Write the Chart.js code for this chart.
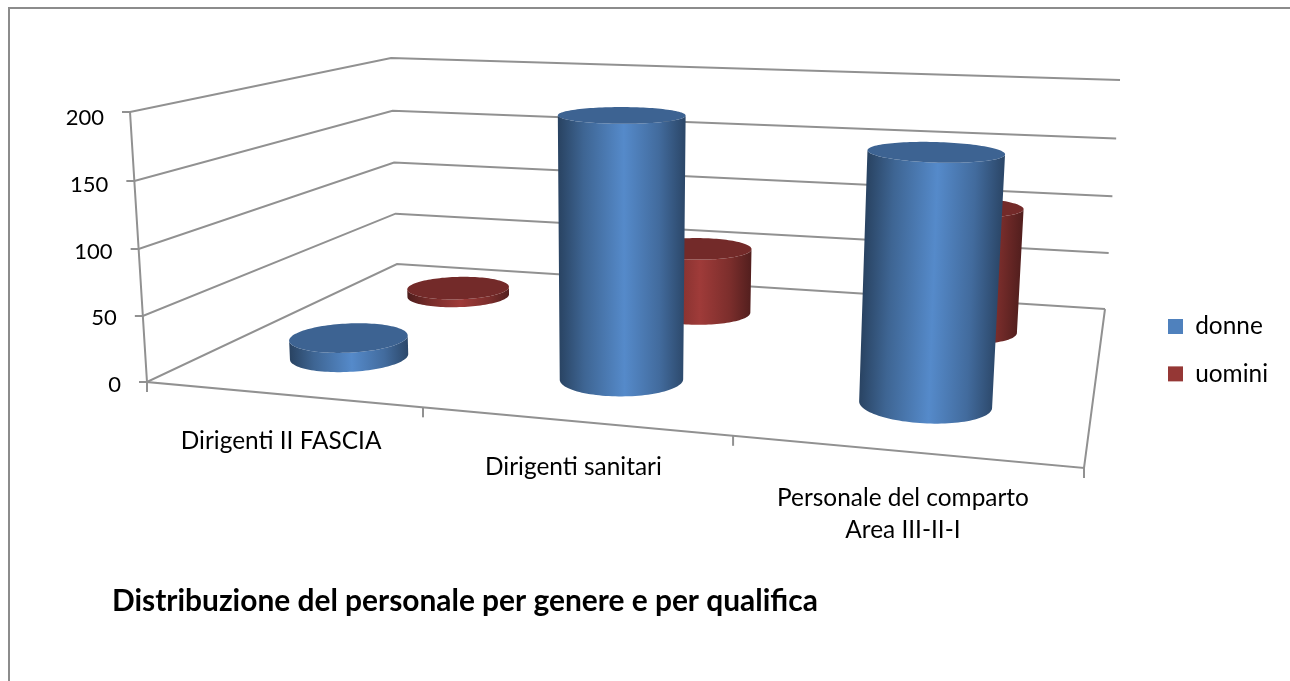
<!DOCTYPE html>
<html lang="it">
<head>
  <meta charset="UTF-8" />
  <title>Distribuzione del personale</title>
  <script src="https://cdn.jsdelivr.net/npm/chart.js"></script>
  <style>
    html, body { margin: 0; padding: 0; background: #fff; overflow: hidden; }
    #frame {
      position: absolute; left: 8px; top: 7px; right: 0; bottom: 0;
      border-left: 2px solid #8c8c8c;
      border-top: 2px solid #8c8c8c;
    }
    canvas { position: absolute; left: 0; top: 0; }
  </style>
</head>
<body>
  <div id="frame"></div>
  <canvas id="chart" width="1290" height="681"></canvas>

  <script>
    const categories = ['Dirigenti II FASCIA', 'Dirigenti sanitari', ['Personale del comparto', 'Area III-II-I']];
    const donne = [15, 198, 182];
    const uomini = [7, 56, 104];
    const titleText = 'Distribuzione del personale per genere e per qualifica';

    const FONT = 'Lato, Carlito, sans-serif';
    const TICK_SIZE = 22;
    const LABEL_SIZE = 24.4;
    const LINE = '#919191';

    // corners of the 3d box on screen: front left, front right, back right, back left
    const floorQuad = [[147, 382], [1084, 468], [1105, 309], [397, 264]];
    const topQuad = [[130, 112], [1104, 160], [1120, 80], [390, 58]];
    // uprights all run towards this point far below the picture
    const VANISH = [614, 7802];
    const DEPTH_RADIUS = 0.105;

    function homography(q) {
      const [[x0, y0], [x1, y1], [x2, y2], [x3, y3]] = q;
      const dx1 = x1 - x2, dx2 = x3 - x2, dx3 = x0 - x1 + x2 - x3;
      const dy1 = y1 - y2, dy2 = y3 - y2, dy3 = y0 - y1 + y2 - y3;
      const den = dx1 * dy2 - dx2 * dy1;
      const g = (dx3 * dy2 - dx2 * dy3) / den;
      const h = (dx1 * dy3 - dx3 * dy1) / den;
      const a = x1 - x0 + g * x1, b = x3 - x0 + h * x3;
      const d = y1 - y0 + g * y1, e = y3 - y0 + h * y3;
      return (u, t) => {
        const w = g * u + h * t + 1;
        return [(a * u + b * t + x0) / w, (d * u + e * t + y0) / w];
      };
    }
    const onFloor = homography(floorQuad);
    const onTop = homography(topQuad);

    // u across the categories, t into the depth, v up the value axis (all 0..1)
    function project(u, t, v) {
      const a = onFloor(u, t), b = onTop(u, t);
      const k = v * 0.97 / ((1 - v) + v * 0.97);
      const py = a[1] + (b[1] - a[1]) * k;
      const px = a[0] + (a[0] - VANISH[0]) * (a[1] - py) / (VANISH[1] - a[1]);
      return [px, py];
    }

    function polyline(ctx, pts) {
      ctx.beginPath();
      pts.forEach((p, i) => i ? ctx.lineTo(p[0], p[1]) : ctx.moveTo(p[0], p[1]));
      ctx.stroke();
    }

    function shade(hex, f) {
      const n = parseInt(hex.slice(1), 16);
      const c = [n >> 16, (n >> 8) & 255, n & 255].map(x => Math.min(255, Math.round(x * f)));
      return `rgb(${c[0]},${c[1]},${c[2]})`;
    }

    const bodyStops = [[0, 0.52], [0.2, 0.78], [0.52, 1.07], [0.8, 0.83], [1, 0.56]];

    function drawCylinder(ctx, u, t, ru, v, color) {
      const N = 120;
      const circle = h => Array.from({ length: N }, (_, i) => {
        const a = i / N * Math.PI * 2;
        return project(u + ru * Math.cos(a), t - DEPTH_RADIUS * Math.sin(a), h);
      });
      const low = circle(0), high = circle(v);
      const xs = low.map((p, i) => p[0] + high[i][0]);
      const left = xs.indexOf(Math.min(...xs)), right = xs.indexOf(Math.max(...xs));
      const mid = i => [(low[i][0] + high[i][0]) / 2, (low[i][1] + high[i][1]) / 2];

      // sin > 0 is the side towards the viewer, from the right edge round to the left edge
      const grad = ctx.createLinearGradient(...mid(left), ...mid(right));
      bodyStops.forEach(([s, f]) => grad.addColorStop(s, shade(color, f)));
      const front = [];
      for (let i = right; i !== left; i = (i + 1) % N) front.push(i);
      front.push(left);
      ctx.fillStyle = grad;
      ctx.beginPath();
      front.forEach((i, n) => n ? ctx.lineTo(...low[i]) : ctx.moveTo(...low[i]));
      front.slice().reverse().forEach(i => ctx.lineTo(...high[i]));
      ctx.closePath();
      ctx.fill();

      ctx.fillStyle = shade(color, 0.77);
      ctx.beginPath();
      high.forEach((p, i) => i ? ctx.lineTo(...p) : ctx.moveTo(...p));
      ctx.closePath();
      ctx.fill();
    }

    const box3d = {
      id: 'box3d',
      afterLayout(chart) {
        chart.titleBlock.left = 112;
      },
      beforeDatasetsDraw(chart) {
        const { ctx, chartArea: area, scales: { x, y } } = chart;
        const toV = val => (area.bottom - y.getPixelForValue(val)) / area.height;
        ctx.save();

        // walls and floor
        ctx.strokeStyle = LINE;
        ctx.lineWidth = 2;
        y.ticks.forEach(tk => {
          const v = toV(tk.value);
          const p = project(0, 0, v);
          polyline(ctx, [[p[0] - 8, p[1]], p, project(0, 1, v), project(1, 1, v)]);
        });
        polyline(ctx, [project(0, 0, 1), project(0, 0, 0), project(1, 0, 0), project(1, 1, 0)]);
        for (let k = 0; k <= categories.length; k++) {
          const p = project(k / categories.length, 0, 0);
          polyline(ctx, [p, [p[0], p[1] + 10]]);
        }

        // value labels follow the slanted axis
        ctx.fillStyle = '#000';
        ctx.font = `${TICK_SIZE}px ${FONT}`;
        ctx.textAlign = 'right';
        ctx.textBaseline = 'middle';
        y.ticks.forEach(tk => {
          const p = project(0, 0, toV(tk.value));
          ctx.fillText(tk.label, p[0] - 26, y.getPixelForValue(tk.value) + 3);
        });

        // category labels hang under the front edge
        ctx.font = `${LABEL_SIZE}px ${FONT}`;
        ctx.textAlign = 'center';
        categories.forEach((c, i) => {
          const u = (x.getPixelForValue(i) - area.left) / area.width;
          const p = project(u, 0, 0);
          [].concat(c).forEach((line, n) => ctx.fillText(line, p[0], p[1] + 46.5 + n * 32));
        });

        // back row first so the front row covers it
        for (let ds = chart.data.datasets.length - 1; ds >= 0; ds--) {
          const meta = chart.getDatasetMeta(ds);
          const color = chart.data.datasets[ds].backgroundColor;
          meta.data.forEach(el => {
            const u = (el.x - area.left) / area.width;
            const v = (area.bottom - el.y) / area.height;
            drawCylinder(ctx, u, (ds + 0.5) / chart.data.datasets.length, el.width / 2 / area.width, v, color);
          });
        }
        ctx.restore();
        return false;
      }
    };

    new Chart(document.getElementById('chart'), {
      type: 'bar',
      data: {
        labels: categories,
        datasets: [
          { label: 'donne', data: donne, backgroundColor: '#4f81bd', grouped: false },
          { label: 'uomini', data: uomini, backgroundColor: '#953735', grouped: false }
        ]
      },
      options: {
        responsive: false,
        animation: false,
        categoryPercentage: 1,
        barPercentage: 0.41,
        layout: { padding: { left: 130, top: 115, right: 12, bottom: 0 } },
        scales: {
          x: { display: false },
          y: { display: false, min: 0, max: 200, ticks: { stepSize: 50 } }
        },
        plugins: {
          legend: {
            position: 'right',
            align: 'start',
            // empty title only pushes the two rows down next to the floor
            title: { display: true, text: '', padding: { top: 147 }, font: { size: LABEL_SIZE } },
            labels: {
              color: '#000',
              boxWidth: 15,
              boxHeight: 15,
              padding: 23,
              font: { family: FONT, size: LABEL_SIZE }
            }
          },
          title: {
            display: true,
            text: titleText,
            position: 'bottom',
            align: 'start',
            color: '#000',
            font: { family: FONT, size: 29.9, weight: 'bold' },
            padding: { top: 201, bottom: 62 }
          },
          tooltip: { enabled: false }
        }
      },
      plugins: [box3d]
    });
  </script>
</body>
</html>
